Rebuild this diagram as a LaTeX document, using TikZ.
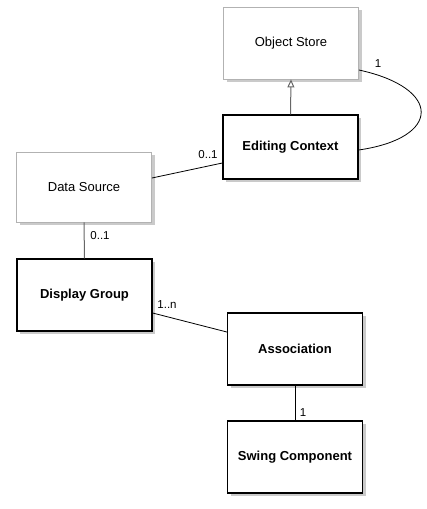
\documentclass[tikz,border=0pt]{standalone}
\usepackage{fontspec}
\setmainfont{Liberation Sans}
\usetikzlibrary{shadows,arrows.meta}
\begin{document}
\begin{tikzpicture}[x=1pt,y=-1pt,
  softbox/.style={draw=black!30,line width=0.8pt,fill=white,minimum width=135pt,minimum height=71pt,
    drop shadow={shadow xshift=3pt,shadow yshift=-3pt,opacity=0.35,fill=black!60},font=\fontsize{13}{15}\selectfont},
  hardbox/.style={draw=black,line width=1.3pt,fill=white,minimum width=135pt,minimum height=71pt,
    drop shadow={shadow xshift=3pt,shadow yshift=-3pt,opacity=0.35,fill=black!60},font=\fontsize{13}{15}\selectfont\bfseries},
  conn/.style={line width=0.8pt,draw=black},
  grayconn/.style={line width=1pt,draw=black!60},
  mult/.style={font=\fontsize{11.5}{13}\selectfont,inner sep=0pt}]
\useasboundingbox (0,0) rectangle (427,509);
\node[softbox,minimum height=72pt] (os) at (291,43) {Object Store};
\node[hardbox,minimum height=64pt] (ec) at (290.5,147) {Editing Context};
\node[softbox,minimum height=70pt] (ds) at (84,187) {Data Source};
\node[hardbox,minimum height=72pt] (dg) at (84.5,295) {Display Group};
\node[hardbox,minimum height=72pt] (as) at (295,349) {Association};
\node[hardbox,minimum height=72pt] (sc) at (295,457) {Swing Component};
\draw[grayconn,-{Triangle[open,length=8pt,width=7pt]}] (ec.north) -- (os.south);
\draw[conn] ([yshift=-27pt]os.east) .. controls (442,88) and (442,138) .. ([yshift=-3pt]ec.east);
\node[mult] (m1) at (378,64) {1};
\draw[conn] ([yshift=9pt]ds.east) -- ([yshift=-16pt]ec.west);
\node[mult] (m2) at (208,155) {0..1};
\draw[grayconn] (ds.south) -- (dg.north);
\node[mult] (m3) at (100,236) {0..1};
\draw[conn] ([yshift=-18pt]dg.east) -- ([yshift=17pt]as.west);
\node[mult] (m4) at (167,305) {1..n};
\draw[conn] (as.south) -- (sc.north);
\node[mult] (m5) at (303,413) {1};
\end{tikzpicture}
\end{document}
